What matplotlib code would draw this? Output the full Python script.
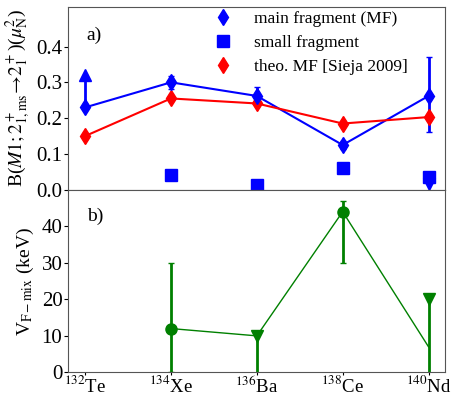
import numpy as np
import matplotlib
matplotlib.use('Agg')
import matplotlib.pyplot as plt
from matplotlib.lines import Line2D

plt.rcParams['font.family'] = ['Liberation Serif', 'DejaVu Serif']
plt.rcParams['mathtext.fontset'] = 'stix'

nuclei = ['$^{132}$Te', '$^{134}$Xe', '$^{136}$Ba', '$^{138}$Ce', '$^{140}$Nd']

# main fragment B(M1)
mf = [0.23, 0.30, 0.262, 0.125, 0.262]
mf_lo = [0.0, 0.018, 0.025, 0.01, 0.10]
mf_hi = [0.0, 0.018, 0.025, 0.01, 0.11]
te_limit = 0.32          # lower limit arrow for Te
# small fragment
sf_idx = [1, 2, 3, 4]
sf = [0.042, 0.012, 0.06, 0.037]
nd_sf_limit = 0.016      # upper limit arrow for Nd
# theory (Sieja 2009)
theo = [0.15, 0.255, 0.241, 0.185, 0.203]

# mixing matrix element
v_idx = [1, 2, 3, 4]
v_mix = [12, 10, 44, 7]
v_lo = [12, 0, 14, 0]
v_hi = [18, 0, 3, 0]
v_limit_idx = [2, 4]
v_limit = [10, 20]

x = np.arange(len(nuclei))

fig = plt.figure(figsize=(4.53, 3.97), dpi=100)
gs = fig.add_gridspec(2, 1, hspace=0, left=0.15, right=0.982, top=0.982, bottom=0.062)
ax1 = fig.add_subplot(gs[0])
ax2 = fig.add_subplot(gs[1], sharex=ax1)

# top panel
ax1.plot(x, mf, color='blue', lw=1.5, zorder=2)
ax1.errorbar(x, mf, yerr=[mf_lo, mf_hi], fmt='d', color='blue', ms=8,
             elinewidth=2, capsize=2, zorder=3)
ax1.plot([x[0], x[0]], [mf[0], te_limit], color='blue', lw=2)
ax1.plot(x[0], te_limit, '^', color='blue', ms=8)
ax1.plot(x[sf_idx], sf, 's', color='blue', ms=8, ls='none')
ax1.plot([x[4], x[4]], [sf[3], nd_sf_limit], color='blue', lw=2)
ax1.plot(x[4], nd_sf_limit, 'v', color='blue', ms=8)
ax1.plot(x, theo, color='red', lw=1.5, zorder=2)
ax1.plot(x, theo, 'd', color='red', ms=8, ls='none', zorder=3)
ax1.set_ylim(0, 0.51)
ax1.set_yticks([0.0, 0.1, 0.2, 0.3, 0.4])
ax1.set_ylabel(r'B($M1;2^+_{1,\mathrm{ms}}\!\rightarrow\!2^+_1$)($\mu^2_\mathrm{N}$)',
               fontsize=14, labelpad=2)
ax1.text(0.05, 0.82, 'a)', transform=ax1.transAxes, fontsize=14)
handles = [Line2D([], [], marker='d', color='blue', ls='none', ms=8),
           Line2D([], [], marker='s', color='blue', ls='none', ms=8),
           Line2D([], [], marker='d', color='red', ls='none', ms=8)]
labels = ['main fragment (MF)', 'small fragment', 'theo. MF [Sieja 2009]']
ax1.legend(handles, labels, loc='upper left', frameon=False, fontsize=12.5,
           borderaxespad=0.0, borderpad=0.2, labelspacing=0.45,
           bbox_to_anchor=(0.355, 1.0))
plt.setp(ax1.get_xticklabels(), visible=False)

# bottom panel
ax2.plot(x[v_idx], v_mix, color='green', lw=1)
ax2.errorbar(x[[1, 3]], [v_mix[0], v_mix[2]], yerr=[[v_lo[0], v_lo[2]], [v_hi[0], v_hi[2]]],
             fmt='o', color='green', ms=8, elinewidth=2, capsize=2)
for i, lim in zip(v_limit_idx, v_limit):
    ax2.plot([x[i], x[i]], [0, lim], color='green', lw=2)
    ax2.plot(x[i], lim, 'v', color='green', ms=8)
ax2.set_ylim(0, 50)
ax2.set_yticks([0, 10, 20, 30, 40])
ax2.set_ylabel(r'V$_\mathrm{F-mix}$ (keV)', fontsize=14, labelpad=4)
ax2.text(0.05, 0.83, 'b)', transform=ax2.transAxes, fontsize=14)
ax2.set_xticks(x)
ax2.set_xticklabels(nuclei)
ax2.set_xlim(-0.2, 4.19)

for ax in (ax1, ax2):
    ax.tick_params(axis='y', labelsize=15, length=3, direction='out', pad=1)
    for s in ax.spines.values():
        s.set_color('#555555')
ax2.tick_params(axis='x', labelsize=13.5, length=2, direction='out', pad=0)

fig.savefig('out.png', dpi=100)
